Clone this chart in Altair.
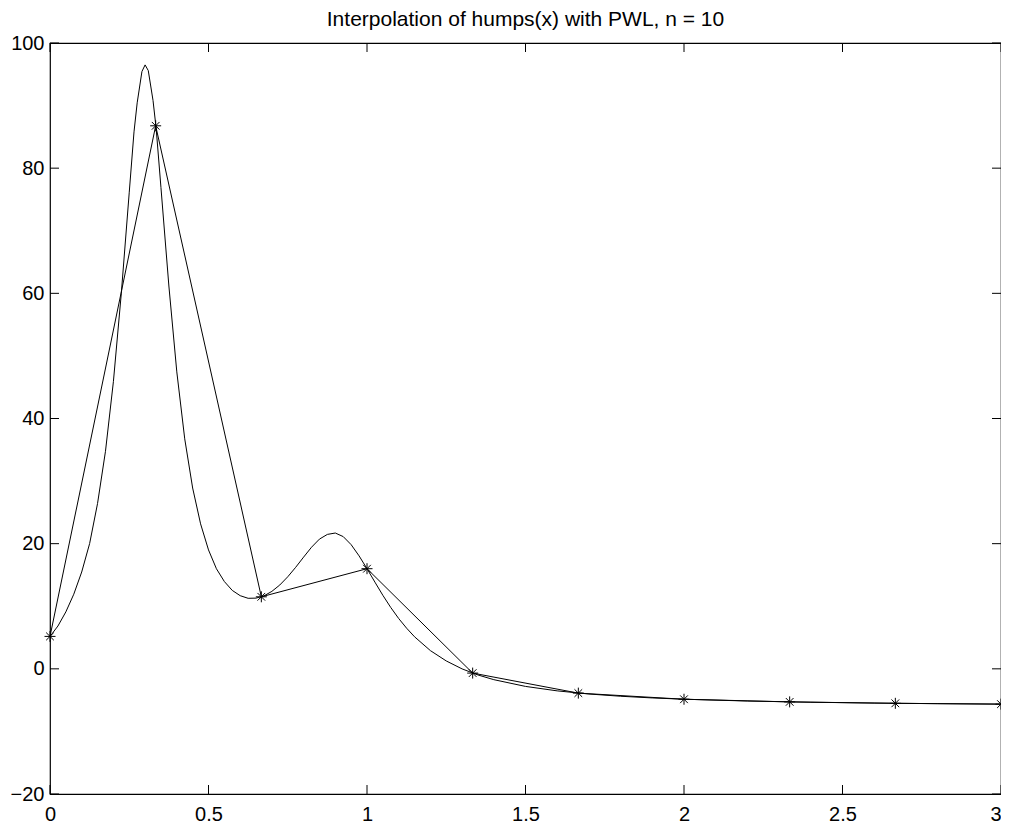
import altair as alt
import pandas as pd

# Smooth curve of humps(x)
curve_x = [0.0, 0.025, 0.05, 0.075, 0.1, 0.125, 0.15, 0.175, 0.2, 0.225, 0.25, 0.265, 0.275,
           0.29, 0.3, 0.31, 0.325, 0.335, 0.35, 0.375, 0.4, 0.425, 0.45, 0.475, 0.5, 0.525,
           0.55, 0.575, 0.6, 0.625, 0.65, 0.675, 0.7, 0.725, 0.75, 0.775, 0.8, 0.825, 0.85,
           0.875, 0.9, 0.925, 0.95, 0.975, 1.0, 1.025, 1.05, 1.075, 1.1, 1.125, 1.15, 1.2,
           1.25, 1.3, 1.35, 1.4, 1.5, 1.6, 1.7, 1.8, 1.9, 2.0, 2.2, 2.4, 2.6, 2.8, 3.0]
curve_y = [5.18, 6.84, 9.10, 11.92, 15.47, 20.02, 26.43, 34.76, 45.89, 60.02, 76.16, 85.8, 90.44,
           95.44, 96.5, 95.59, 90.82, 86.3, 76.92, 61.17, 47.45, 36.75, 28.89, 23.17, 19.0, 15.99,
           13.95, 12.53, 11.69, 11.27, 11.30, 11.66, 12.38, 13.40, 14.71, 16.22, 17.85, 19.43, 20.73,
           21.48, 21.70, 21.13, 19.84, 18.05, 16.0, 13.85, 11.75, 9.80, 8.04, 6.49, 5.12, 2.91,
           1.26, -0.01, -0.98, -1.73, -2.81, -3.52, -4.02, -4.38, -4.65, -4.855, -5.146, -5.337,
           -5.47, -5.566, -5.638]

# Interpolation nodes (n = 10)
node_x = [0.0, 1/3, 2/3, 1.0, 4/3, 5/3, 2.0, 7/3, 8/3, 3.0]
node_y = [5.18, 86.77, 11.51, 16.0, -0.68, -3.88, -4.86, -5.28, -5.51, -5.64]

x_ticks = [0, 0.5, 1, 1.5, 2, 2.5, 3]
y_ticks = [-20, 0, 20, 40, 60, 80, 100]

title_text = "Interpolation of humps(x) with PWL, n = 10"

W, H = 951, 751
TICK = 9
FONT = "Liberation Sans"

curve_df = pd.DataFrame({"x": curve_x, "y": curve_y})
node_df = pd.DataFrame({"x": node_x, "y": node_y})
xt_df = pd.DataFrame({"x": x_ticks})
yt_df = pd.DataFrame({"y": y_ticks})

xs = alt.Scale(domain=[0, 3], nice=False, zero=False)
ys = alt.Scale(domain=[-20, 100], nice=False, zero=False)

x_axis = alt.Axis(values=x_ticks, title=None, grid=False, ticks=False, domain=False,
                  labelFontSize=20, labelFont=FONT, labelColor="black", labelPadding=10,
                  labelFlush=False, labelOverlap=False, format="~r",
                  labelAlign={"condition": {"test": "datum.value == 3", "value": "right"},
                              "value": "center"})
y_axis = alt.Axis(values=y_ticks, title=None, grid=False, ticks=False, domain=False,
                  labelFontSize=20, labelFont=FONT, labelColor="black", labelPadding=6,
                  labelFlush=False, labelOverlap=False, format="~r")

X = alt.X("x:Q", scale=xs, axis=x_axis, title=None)
Y = alt.Y("y:Q", scale=ys, axis=y_axis, title=None)

curve = alt.Chart(curve_df).mark_line(color="black", strokeWidth=1).encode(x=X, y=Y)
pwl = alt.Chart(node_df).mark_line(color="black", strokeWidth=1).encode(x=X, y=Y)

star_path = "M -1 0 L 1 0 M 0 -1 L 0 1 M -0.7 -0.7 L 0.7 0.7 M -0.7 0.7 L 0.7 -0.7"
stars = alt.Chart(node_df).mark_point(shape=star_path, size=121, filled=False,
                                      color="black", strokeWidth=1, opacity=1).encode(x=X, y=Y)

xt_bottom = alt.Chart(xt_df).mark_rule(color="black", strokeWidth=1).encode(
    x=X, y=alt.value(H), y2=alt.value(H - TICK))
xt_top = alt.Chart(xt_df).mark_rule(color="black", strokeWidth=1).encode(
    x=X, y=alt.value(0), y2=alt.value(TICK))
yt_left = alt.Chart(yt_df).mark_rule(color="black", strokeWidth=1).encode(
    y=Y, x=alt.value(0), x2=alt.value(TICK))
yt_right = alt.Chart(yt_df).mark_rule(color="black", strokeWidth=1).encode(
    y=Y, x=alt.value(W), x2=alt.value(W - TICK))

chart = alt.layer(curve, pwl, stars, xt_bottom, xt_top, yt_left, yt_right).properties(
    width=W, height=H,
    title=alt.TitleParams(title_text, fontSize=21, font=FONT, fontWeight="normal",
                          color="black", anchor="middle", offset=3),
    autosize=alt.AutoSizeParams(type="none"),
    padding={"left": 42, "top": 35, "right": 0, "bottom": 30},
    background="white",
).configure_view(stroke="black", strokeWidth=1.2)

chart.save("out.html", embed_options={"renderer": "svg", "actions": False})
